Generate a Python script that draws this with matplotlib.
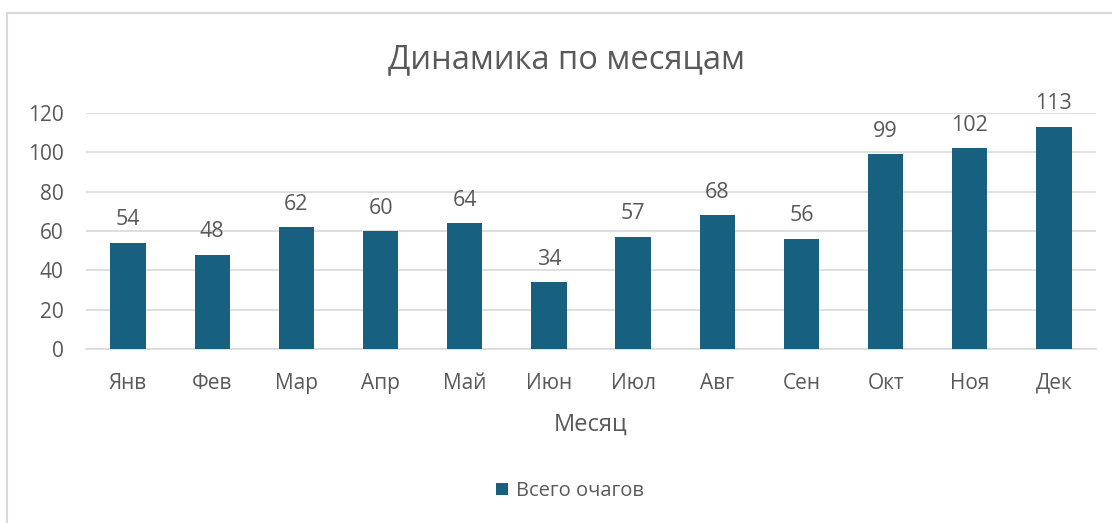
import matplotlib.pyplot as plt
from matplotlib.patches import Rectangle

# data
months = ['Янв', 'Фев', 'Мар', 'Апр', 'Май', 'Июн', 'Июл', 'Авг', 'Сен', 'Окт', 'Ноя', 'Дек']
outbreaks = [54, 48, 62, 60, 64, 34, 57, 68, 56, 99, 102, 113]
yticks = [0, 20, 40, 60, 80, 100, 120]

plt.rcParams['font.family'] = ['Open Sans', 'DejaVu Sans']
grey = '#595959'
bar_color = '#18607F'

W, H = 1112, 523
fig = plt.figure(figsize=(W / 100, H / 100), dpi=100)

# outer chart frame (cut off at right and bottom like the screenshot)
fig.patches.append(Rectangle((7 / W, -0.1), 1.2, 1 - 13 / H + 0.1, transform=fig.transFigure,
                             fill=False, edgecolor='#D9D9D9', linewidth=1.5))

ax = fig.add_axes([86 / W, 1 - 349 / H, (1096 - 86) / W, (349 - 113) / H])
x = range(len(months))
bars = ax.bar(x, outbreaks, width=0.42, color=bar_color, label='Всего очагов', zorder=3)
ax.bar_label(bars, padding=9, fontsize=15.5, color=grey)

ax.set_xlim(-0.5, len(months) - 0.5)
ax.set_ylim(0, 120)
ax.set_yticks(yticks)
ax.set_xticks(list(x))
ax.set_xticklabels(months)
ax.tick_params(axis='both', length=0, labelsize=15, colors=grey)
ax.tick_params(axis='x', pad=17)
ax.tick_params(axis='y', pad=16)
ax.grid(axis='y', color='#D9D9D9', linewidth=1.2, zorder=0)
for s in ['top', 'right', 'left']:
    ax.spines[s].set_visible(False)
ax.spines['bottom'].set_color('#D9D9D9')
ax.spines['bottom'].set_linewidth(1.2)

ax.set_xlabel('Месяц', fontsize=17, color=grey, labelpad=14)
fig.text(567 / W, 1 - 60 / H, 'Динамика по месяцам', fontsize=23.5, color=grey,
         ha='center', va='center')

fig.legend(handles=[bars], labels=['Всего очагов'], loc='center', bbox_to_anchor=(570 / W, 1 - 491 / H),
           frameon=False, fontsize=14.5, labelcolor=grey, handlelength=0.6, handleheight=0.6,
           handletextpad=0.4)

fig.savefig('out.png', dpi=100)
